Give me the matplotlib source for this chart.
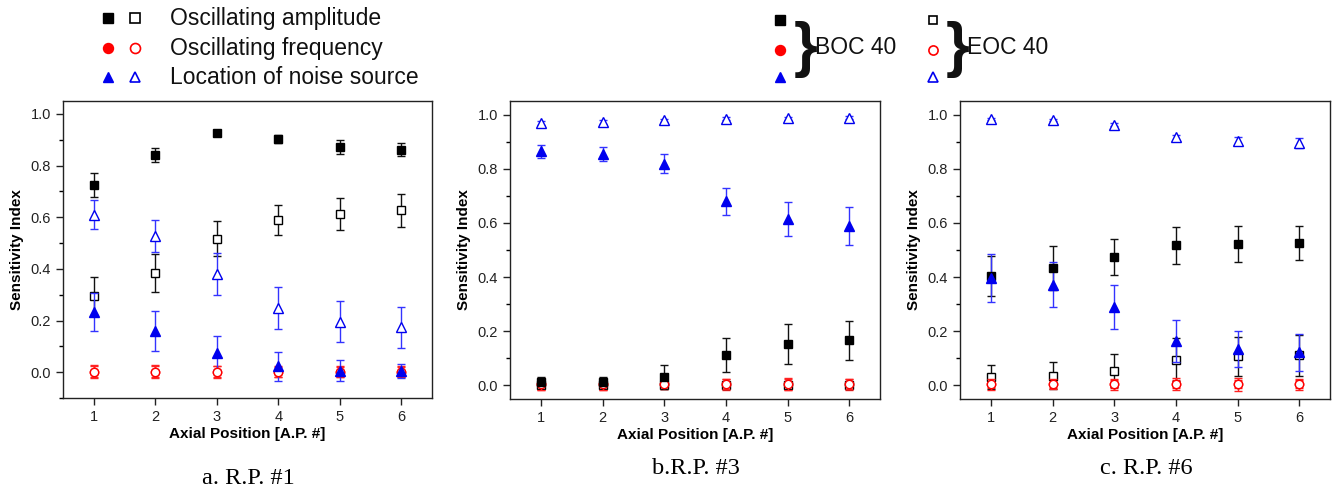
import matplotlib
matplotlib.use("Agg")
import matplotlib.pyplot as plt
from matplotlib.ticker import MultipleLocator

plt.rcParams['font.family'] = ['Liberation Sans', 'DejaVu Sans']

positions = [1, 2, 3, 4, 5, 6]
captions = ["a. R.P. #1", "b.R.P. #3", "c. R.P. #6"]
series_labels = ["Oscillating amplitude", "Oscillating frequency", "Location of noise source"]

# Panel a (R.P. #1)
p1_boc_amp = [0.725, 0.841, 0.925, 0.902, 0.871, 0.862]
p1_boc_amp_err = [0.045, 0.027, 0.006, 0.015, 0.027, 0.026]
p1_eoc_amp = [0.296, 0.385, 0.517, 0.590, 0.614, 0.627]
p1_eoc_amp_err = [0.074, 0.073, 0.067, 0.057, 0.062, 0.064]
p1_boc_freq = [0.002, 0.002, 0.002, 0.002, 0.002, 0.002]
p1_boc_freq_err = [0.022, 0.022, 0.020, 0.020, 0.020, 0.020]
p1_eoc_freq = [0.001, 0.001, 0.001, 0.001, 0.001, 0.001]
p1_eoc_freq_err = [0.025, 0.025, 0.022, 0.020, 0.018, 0.020]
p1_boc_loc = [0.233, 0.159, 0.074, 0.022, 0.006, 0.004]
p1_boc_loc_err = [0.073, 0.077, 0.066, 0.058, 0.040, 0.028]
p1_eoc_loc = [0.610, 0.526, 0.380, 0.248, 0.196, 0.174]
p1_eoc_loc_err = [0.057, 0.062, 0.083, 0.082, 0.079, 0.079]

# Panel b (R.P. #3)
p2_boc_amp = [0.012, 0.013, 0.030, 0.112, 0.153, 0.167]
p2_boc_amp_err = [0.018, 0.018, 0.044, 0.062, 0.075, 0.072]
p2_eoc_amp = [0.003, 0.003, 0.003, 0.003, 0.003, 0.003]
p2_eoc_amp_err = [0.005, 0.005, 0.005, 0.005, 0.005, 0.005]
p2_boc_freq = [0.005, 0.005, 0.005, 0.005, 0.005, 0.005]
p2_boc_freq_err = [0.022, 0.020, 0.018, 0.020, 0.022, 0.020]
p2_eoc_freq = [0.004, 0.004, 0.004, 0.004, 0.004, 0.004]
p2_eoc_freq_err = [0.020, 0.020, 0.018, 0.018, 0.020, 0.018]
p2_boc_loc = [0.865, 0.856, 0.819, 0.680, 0.615, 0.590]
p2_boc_loc_err = [0.024, 0.026, 0.035, 0.050, 0.063, 0.070]
p2_eoc_loc = [0.969, 0.973, 0.979, 0.985, 0.986, 0.988]
p2_eoc_loc_err = [0.008, 0.007, 0.006, 0.005, 0.005, 0.005]

# Panel c (R.P. #6)
p3_boc_amp = [0.405, 0.433, 0.474, 0.518, 0.522, 0.526]
p3_boc_amp_err = [0.073, 0.082, 0.068, 0.068, 0.068, 0.064]
p3_eoc_amp = [0.030, 0.036, 0.055, 0.095, 0.107, 0.111]
p3_eoc_amp_err = [0.044, 0.050, 0.060, 0.080, 0.073, 0.077]
p3_boc_freq = [0.005, 0.005, 0.005, 0.005, 0.005, 0.005]
p3_boc_freq_err = [0.015, 0.015, 0.015, 0.015, 0.015, 0.015]
p3_eoc_freq = [0.004, 0.004, 0.004, 0.004, 0.004, 0.004]
p3_eoc_freq_err = [0.020, 0.018, 0.020, 0.022, 0.025, 0.020]
p3_boc_loc = [0.397, 0.372, 0.289, 0.163, 0.134, 0.122]
p3_boc_loc_err = [0.088, 0.082, 0.080, 0.077, 0.066, 0.069]
p3_eoc_loc = [0.984, 0.980, 0.963, 0.916, 0.901, 0.895]
p3_eoc_loc_err = [0.004, 0.004, 0.006, 0.010, 0.015, 0.017]

panels = [
    dict(amp=(p1_boc_amp, p1_boc_amp_err, p1_eoc_amp, p1_eoc_amp_err),
         freq=(p1_boc_freq, p1_boc_freq_err, p1_eoc_freq, p1_eoc_freq_err),
         loc=(p1_boc_loc, p1_boc_loc_err, p1_eoc_loc, p1_eoc_loc_err),
         ylim=(-0.1, 1.05)),
    dict(amp=(p2_boc_amp, p2_boc_amp_err, p2_eoc_amp, p2_eoc_amp_err),
         freq=(p2_boc_freq, p2_boc_freq_err, p2_eoc_freq, p2_eoc_freq_err),
         loc=(p2_boc_loc, p2_boc_loc_err, p2_eoc_loc, p2_eoc_loc_err),
         ylim=(-0.05, 1.05)),
    dict(amp=(p3_boc_amp, p3_boc_amp_err, p3_eoc_amp, p3_eoc_amp_err),
         freq=(p3_boc_freq, p3_boc_freq_err, p3_eoc_freq, p3_eoc_freq_err),
         loc=(p3_boc_loc, p3_boc_loc_err, p3_eoc_loc, p3_eoc_loc_err),
         ylim=(-0.05, 1.05)),
]

BLACK = '#000000'
RED = '#ff0000'
BLUE = '#0000ee'
BLUE_BAR = '#3333ff'

styles = {
    'amp': dict(marker='s', color=BLACK, bar='#111111', ms=5.5),
    'freq': dict(marker='o', color=RED, bar='#ff2222', ms=6.0),
    'loc': dict(marker='^', color=BLUE, bar=BLUE_BAR, ms=6.5),
}

fig = plt.figure(figsize=(13.36, 4.92), dpi=100)
W, H = 1336.0, 492.0
axes_px = [(63, 101, 432, 398), (510, 101, 880, 399), (960, 101, 1330, 399)]
caption_px = [(248, 479), (696, 469), (1146, 469)]

for i, (pan, (l, t, r, b)) in enumerate(zip(panels, axes_px)):
    ax = fig.add_axes([l / W, 1 - b / H, (r - l) / W, (b - t) / H])
    for key in ['freq', 'amp', 'loc']:
        st = styles[key]
        boc, boc_e, eoc, eoc_e = pan[key]
        z_boc, z_eoc = (3, 4) if key == 'freq' else (4, 3)
        ax.errorbar(positions, boc, yerr=boc_e, fmt=st['marker'], ms=st['ms'],
                    mfc=st['color'], mec=st['color'], mew=1.0, ecolor=st['bar'],
                    elinewidth=1.0, capsize=3, capthick=1.0, zorder=z_boc)
        ax.errorbar(positions, eoc, yerr=eoc_e, fmt=st['marker'], ms=st['ms'],
                    mfc='white', mec=st['color'], mew=1.0, ecolor=st['bar'],
                    elinewidth=1.0, capsize=3, capthick=1.0, zorder=z_eoc)
    ax.set_xlim(0.5, 6.5)
    ax.set_ylim(*pan['ylim'])
    ax.set_xticks(positions)
    ax.yaxis.set_major_locator(MultipleLocator(0.2))
    ax.yaxis.set_minor_locator(MultipleLocator(0.1))
    ax.tick_params(axis='both', which='major', direction='out', length=5, width=1,
                   labelsize=10.5, colors='#222222', labelcolor='#222222')
    ax.tick_params(axis='y', which='minor', direction='out', length=3, width=1)
    ax.tick_params(top=False, right=False)
    for sp in ax.spines.values():
        sp.set_linewidth(1.0)
        sp.set_color('#222222')
    ax.set_xlabel("Axial Position [A.P. #]", fontsize=11, fontweight='bold', labelpad=2)
    ax.set_ylabel("Sensitivity Index", fontsize=11, fontweight='bold', labelpad=5)
    cx, cy = caption_px[i]
    fig.text(cx / W, 1 - cy / H, captions[i], ha='center', va='center',
             family=['Liberation Serif', 'DejaVu Serif'], fontsize=17.5)

# Legend overlay
lg = fig.add_axes([0, 0, 1, 1])
lg.set_xlim(0, W)
lg.set_ylim(H, 0)
lg.axis('off')
rows_y = [18, 48, 77]
for key, yy, lab in zip(['amp', 'freq', 'loc'], rows_y, series_labels):
    st = styles[key]
    lg.plot([108], [yy], st['marker'], ms=st['ms'] * 1.2, mfc=st['color'], mec=st['color'], mew=1.0)
    lg.plot([135], [yy], st['marker'], ms=st['ms'] * 1.2, mfc='white', mec=st['color'], mew=1.2)
    lg.text(170, yy, lab, ha='left', va='center', fontsize=16.5, color='#111111')

for key, yy in zip(['amp', 'freq', 'loc'], [20, 50, 77]):
    st = styles[key]
    lg.plot([780], [yy], st['marker'], ms=st['ms'] * 1.2, mfc=st['color'], mec=st['color'], mew=1.0)
    lg.plot([933], [yy], st['marker'], ms=st['ms'] * 1.1, mfc='white', mec=st['color'], mew=1.2)
lg.text(794, 50, "}", ha='left', va='center', fontsize=44, color='#111111', fontweight='bold')
lg.text(815, 48, "BOC 40", ha='left', va='center', fontsize=16.5, color='#111111')
lg.text(946, 50, "}", ha='left', va='center', fontsize=44, color='#111111', fontweight='bold')
lg.text(967, 48, "EOC 40", ha='left', va='center', fontsize=16.5, color='#111111')

fig.savefig("out.png", dpi=100)
